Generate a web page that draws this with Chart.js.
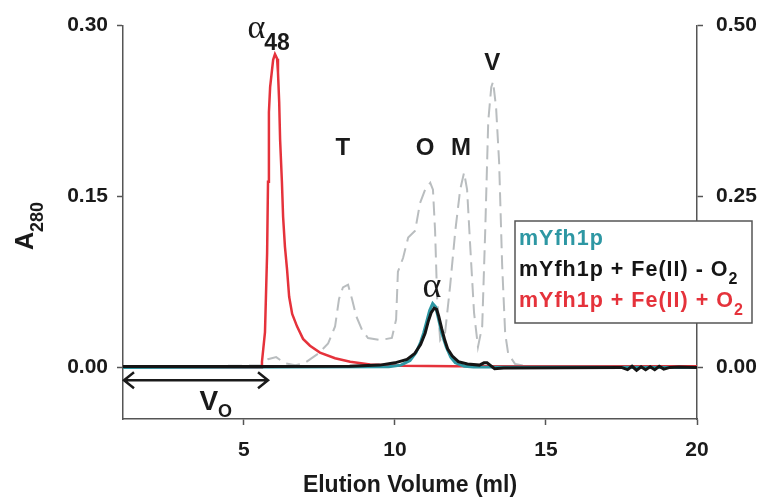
<!DOCTYPE html>
<html>
<head>
<meta charset="utf-8">
<script src="https://cdn.jsdelivr.net/npm/chart.js@4.4.1/dist/chart.umd.min.js"></script>
<style>
  body { margin: 0; background: #fff; }
  #wrap { width: 765px; height: 498px; }
</style>
</head>
<body>
<div id="wrap"><canvas id="myChart"></canvas></div>
<script>
// series labels (text after "_" is drawn as a subscript)
const seriesLabels = ["mYfh1p", "mYfh1p + Fe(II) - O_2", "mYfh1p + Fe(II) + O_2"];

// mYfh1p (teal), left axis
const tealVol = [1, 9.8, 10.2, 10.5, 10.7, 10.85, 10.95, 11.05, 11.15, 11.25, 11.35, 11.45, 11.55, 11.7, 11.85, 12.0, 12.3, 12.6, 20];
const tealAbs = [0, 0.0005, 0.002, 0.006, 0.013, 0.022, 0.03, 0.04, 0.05, 0.056, 0.053, 0.042, 0.03, 0.018, 0.009, 0.004, 0.001, 0.0003, 0];

// mYfh1p + Fe(II) - O2 (black), left axis
const blackVol = [1, 5.6, 8.5, 9.5, 10.0, 10.4, 10.65, 10.85, 11.0, 11.1, 11.2, 11.3, 11.38, 11.45, 11.55, 11.65, 11.75, 11.9, 12.1, 12.4, 12.8, 12.95, 13.05, 13.15, 13.3, 13.6, 17.5, 17.7, 17.85, 18.0, 18.15, 18.3, 18.45, 18.6, 18.75, 18.9, 19.1, 19.4, 20];
const blackAbs = [0.0008, 0.0008, 0.001, 0.002, 0.004, 0.007, 0.012, 0.02, 0.03, 0.04, 0.048, 0.052, 0.051, 0.045, 0.034, 0.024, 0.016, 0.01, 0.005, 0.003, 0.002, 0.004, 0.004, 0.002, -0.0012, -0.0005, 0, -0.002, 0.001, -0.0025, 0.0005, -0.002, 0.0005, -0.002, 0.001, -0.0015, 0, 0.0003, 0];

// mYfh1p + Fe(II) + O2 (red), left axis
const redVol = [1, 5.57, 5.6, 5.7, 5.77, 5.8, 5.83, 5.87, 5.97, 6.03, 6.1, 6.13, 6.17, 6.2, 6.26, 6.3, 6.36, 6.43, 6.5, 6.6, 6.76, 6.96, 7.19, 7.52, 8.02, 8.52, 9.18, 10.17, 12, 20];
const redAbs = [0, 0, 0.005, 0.031, 0.1, 0.163, 0.224, 0.246, 0.27, 0.275, 0.271, 0.259, 0.233, 0.2, 0.163, 0.132, 0.106, 0.086, 0.062, 0.047, 0.036, 0.025, 0.019, 0.013, 0.008, 0.005, 0.0026, 0.0015, 0.001, 0.001];

// size standards (grey dashed), right axis
const stdVol = [1, 5.6, 5.8, 6.07, 6.36, 6.7, 7.0, 7.46, 7.79, 8.02, 8.15, 8.28, 8.45, 8.58, 8.72, 8.91, 9.11, 9.51, 9.9, 10.04, 10.1, 10.27, 10.44, 10.67, 10.83, 11.0, 11.17, 11.26, 11.33, 11.4, 11.5, 11.66, 11.83, 12.0, 12.16, 12.29, 12.39, 12.49, 12.62, 12.75, 12.89, 12.99, 13.09, 13.19, 13.25, 13.35, 13.45, 13.55, 13.65, 13.75, 13.98, 14.48, 20];
const stdAbs = [0, 0.003, 0.012, 0.015, 0.006, 0.003, 0.006, 0.02, 0.035, 0.06, 0.1, 0.117, 0.121, 0.1, 0.075, 0.055, 0.043, 0.04, 0.043, 0.07, 0.14, 0.16, 0.19, 0.2, 0.24, 0.26, 0.27, 0.26, 0.2, 0.1, 0.04, 0.05, 0.12, 0.2, 0.26, 0.285, 0.26, 0.18, 0.08, 0.03, 0.06, 0.2, 0.36, 0.41, 0.418, 0.38, 0.3, 0.15, 0.05, 0.02, 0.005, 0.001, 0];

// tick labels
const leftTicks = [0, 0.15, 0.3];
const rightTicks = [0, 0.25, 0.5];
const volTicks = [5, 10, 15, 20];

function pts(xs, ys) {
  return xs.map((x, i) => ({x: x, y: ys[i]}));
}

const FONT = "'Liberation Sans', Arial, sans-serif";
const SERIF = "'Liberation Serif', 'DejaVu Serif', serif";

// draw text with an optional subscript part ("O_2")
function richText(ctx, label, x, y, size, subSize, subDy) {
  const parts = label.split('_');
  ctx.font = "bold " + size + "px " + FONT;
  ctx.fillText(parts[0], x, y);
  if (parts[1]) {
    const w = ctx.measureText(parts[0]).width;
    ctx.font = "bold " + subSize + "px " + FONT;
    ctx.fillText(parts[1], x + w, y + subDy);
  }
}

const overlay = {
  id: 'overlay',
  afterDraw(chart) {
    const ctx = chart.ctx;
    const xs = chart.scales.x, ys = chart.scales.y;
    ctx.save();
    ctx.fillStyle = '#1a1a1a';
    ctx.textBaseline = 'alphabetic';

    // y axis title A280
    ctx.save();
    ctx.translate(33, 250);
    ctx.rotate(-Math.PI / 2);
    ctx.textAlign = 'left';
    richText(ctx, 'A_280', 0, 0, 25, 18, 10);
    ctx.restore();

    // peak letters
    ctx.textAlign = 'center';
    ctx.font = "bold 24px " + FONT;
    [['T', 8.28, 0.186], ['O', 11.0, 0.186], ['M', 12.19, 0.186], ['V', 13.22, 0.261]].forEach(a => {
      ctx.fillText(a[0], xs.getPixelForValue(a[1]), ys.getPixelForValue(a[2]));
    });
    ctx.font = "36px " + SERIF;
    ctx.fillText('\u03b1', xs.getPixelForValue(11.23), ys.getPixelForValue(0.062));

    // alpha 48
    ctx.textAlign = 'left';
    const ax = xs.getPixelForValue(5.12), ay = ys.getPixelForValue(0.289);
    ctx.font = "34px " + SERIF;
    ctx.fillText('\u03b1', ax, ay);
    const aw = ctx.measureText('\u03b1').width;
    ctx.font = "bold 23px " + FONT;
    ctx.fillText('48', ax + aw - 1, ay + 12);

    // V0 arrow
    const y0 = ys.getPixelForValue(-0.0113);
    const x1 = xs.getPixelForValue(1) + 1, x2 = xs.getPixelForValue(5.8);
    ctx.strokeStyle = '#1a1a1a';
    ctx.lineWidth = 2.5;
    ctx.beginPath();
    ctx.moveTo(x1, y0); ctx.lineTo(x2, y0);
    ctx.moveTo(x1 + 10, y0 - 8); ctx.lineTo(x1, y0); ctx.lineTo(x1 + 10, y0 + 8);
    ctx.moveTo(x2 - 10, y0 - 8); ctx.lineTo(x2, y0); ctx.lineTo(x2 - 10, y0 + 8);
    ctx.stroke();
    richText(ctx, 'V_O', xs.getPixelForValue(3.53), ys.getPixelForValue(-0.0375), 28, 18, 7);

    // legend box
    const bx = 515, by = 221, bw = 237, bh = 102;
    ctx.fillStyle = '#fff';
    ctx.fillRect(bx, by, bw, bh);
    ctx.strokeStyle = '#555';
    ctx.lineWidth = 1.5;
    ctx.strokeRect(bx, by, bw, bh);
    ctx.letterSpacing = '1px';
    [0, 1, 2].forEach((di, i) => {
      const ds = chart.data.datasets[di];
      ctx.fillStyle = ds.borderColor;
      richText(ctx, ds.label, bx + 4, by + 24 + i * 31, 21.5, 16, 8);
    });
    ctx.restore();
  }
};

new Chart("myChart", {
  type: "line",
  data: {
    datasets: [{
      label: seriesLabels[0],
      data: pts(tealVol, tealAbs),
      borderColor: "#2d97a3",
      borderWidth: 3,
      yAxisID: 'y',
      order: 2
    }, {
      label: seriesLabels[1],
      data: pts(blackVol, blackAbs),
      borderColor: "#151515",
      borderWidth: 3,
      yAxisID: 'y',
      order: 1
    }, {
      label: seriesLabels[2],
      data: pts(redVol, redAbs),
      borderColor: "#e5323b",
      borderWidth: 2.5,
      yAxisID: 'y',
      order: 3
    }, {
      label: "standards",
      data: pts(stdVol, stdAbs),
      borderColor: "#b9bdbf",
      borderWidth: 2,
      borderDash: [14, 7],
      yAxisID: 'y2',
      order: 4
    }]
  },
  options: {
    responsive: true,
    maintainAspectRatio: false,
    animation: false,
    layout: {padding: {top: 23, left: 0, right: 0, bottom: 0}},
    elements: {point: {radius: 0}, line: {tension: 0, fill: false}},
    plugins: {legend: {display: false}, tooltip: {enabled: false}},
    scales: {
      x: {
        type: 'linear',
        min: 1, max: 20,
        afterBuildTicks: s => { s.ticks = volTicks.map(v => ({value: v})); },
        afterFit: s => { s.height = 79; },
        border: {color: '#555', width: 1.5},
        grid: {drawOnChartArea: false, tickLength: 6, tickColor: '#555', tickWidth: 1.5},
        ticks: {color: '#1a1a1a', padding: 13, font: {family: FONT, size: 21, weight: 'bold'}},
        title: {display: true, text: 'Elution Volume (ml)', color: '#1a1a1a', padding: 0,
                font: {family: FONT, size: 23, weight: 'bold', lineHeight: 1.1}}
      },
      y: {
        position: 'left',
        min: -0.0453, max: 0.3,
        afterBuildTicks: s => { s.ticks = leftTicks.map(v => ({value: v})); },
        afterFit: s => { s.width = 123; },
        border: {color: '#555', width: 1.5},
        grid: {drawOnChartArea: false, tickLength: 6, tickColor: '#555', tickWidth: 1.5},
        ticks: {color: '#1a1a1a', padding: 9, callback: v => v.toFixed(2),
                font: {family: FONT, size: 21, weight: 'bold'}}
      },
      y2: {
        position: 'right',
        min: -0.0755, max: 0.5,
        afterBuildTicks: s => { s.ticks = rightTicks.map(v => ({value: v})); },
        afterFit: s => { s.width = 68; },
        border: {color: '#555', width: 1.5},
        grid: {drawOnChartArea: false, tickLength: 6, tickColor: '#555', tickWidth: 1.5},
        ticks: {color: '#1a1a1a', padding: 13, callback: v => v.toFixed(2),
                font: {family: FONT, size: 21, weight: 'bold'}}
      }
    }
  },
  plugins: [overlay]
});
</script>
</body>
</html>
